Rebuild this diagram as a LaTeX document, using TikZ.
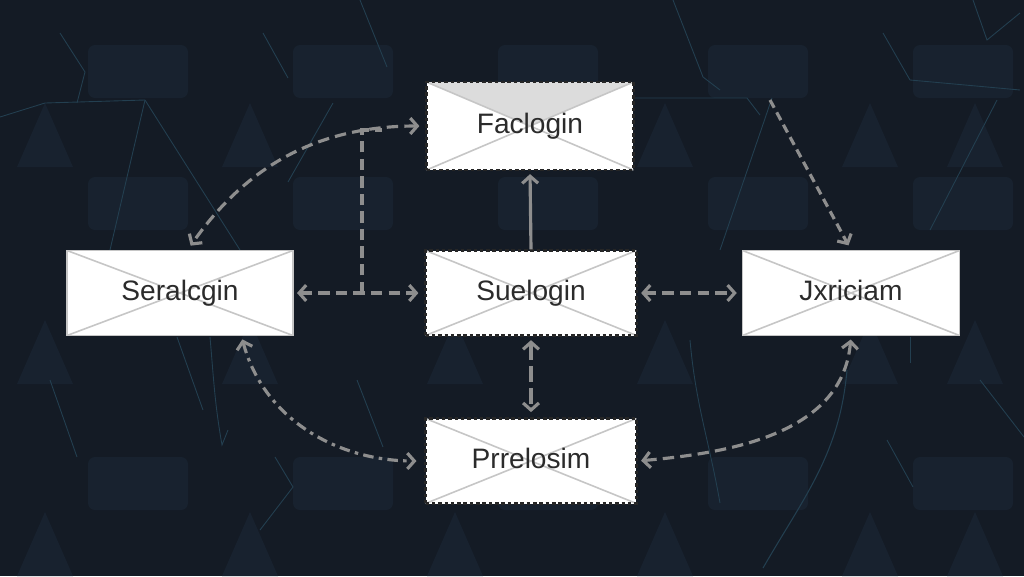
\documentclass[tikz,border=0pt]{standalone}
\usepackage{fontspec}
\setmainfont{Liberation Sans}
\usepackage{xcolor}
\usetikzlibrary{arrows.meta}

\definecolor{bgnavy}{HTML}{141B25}
\definecolor{bgshape}{HTML}{18222F}
\definecolor{bgline}{HTML}{233F50}
\definecolor{linkgray}{HTML}{8E8E8E}
\definecolor{crossgray}{HTML}{C6C6C6}
\definecolor{flapgray}{HTML}{DCDCDC}
\definecolor{labelgray}{HTML}{2B2B2B}

\tikzset{
	envcross/.style={path picture={
			\draw[solid, crossgray, line width=0.9pt] (path picture bounding box.north west) -- (path picture bounding box.south east)
			(path picture bounding box.south west) -- (path picture bounding box.north east);
	}},
	envflap/.style={path picture={
			\fill[flapgray] (path picture bounding box.north west) -- (path picture bounding box.north east) -- (path picture bounding box.center) -- cycle;
			\draw[solid, crossgray, line width=0.9pt] (path picture bounding box.north west) -- (path picture bounding box.south east)
			(path picture bounding box.south west) -- (path picture bounding box.north east);
	}},
	envelope/.style={draw=crossgray, line width=0.6pt, fill=white, minimum height=1.7cm,
		text=labelgray, font=\fontsize{16}{19}\selectfont, text height=12pt, text depth=3.5pt, envcross},
	stamp/.style={envelope, draw=black!85, line width=1.3pt, dash pattern=on 2pt off 1.6pt},
	link/.style={draw=linkgray, line width=1.8pt, dash pattern=on 6.5pt off 3.5pt}
}

\begin{document}
\begin{tikzpicture}[x=0.02cm, y=-0.02cm,
		>={Straight Barb[length=4pt,width=9pt]}]
	
	%background
	\fill[bgnavy] (0,0) rectangle (1024,576);
	\useasboundingbox (0,0) rectangle (1024,576);
	\foreach \px in {88,293,498,708,913}{
		\foreach \py in {45,177,457}{
			\fill[bgshape, rounded corners=4pt] (\px,\py) rectangle ++(100,53);
		}
	}
	\foreach \tx in {45,250,455,665,870,975}{
		\foreach \ty in {103,320,512}{
			\fill[bgshape] (\tx,\ty) -- ++(28,64) -- ++(-56,0) -- cycle;
		}
	}
	\draw[bgline, line width=0.5pt] (60,33) -- (85,72) -- (77,103);
	\draw[bgline, line width=0.5pt] (0,117) -- (45,103) -- (145,100);
	\draw[bgline, line width=0.5pt] (145,100) -- (110,250);
	\draw[bgline, line width=0.5pt] (145,100) -- (240,250);
	\draw[bgline, line width=0.5pt] (263,33) -- (288,78);
	\draw[bgline, line width=0.5pt] (333,103) -- (288,182);
	\draw[bgline, line width=0.5pt] (360,0) -- (387,67);
	\draw[bgline, line width=0.5pt] (673,0) -- (703,77) -- (720,90);
	\draw[bgline, line width=0.5pt] (620,98) -- (747,98) -- (760,115);
	\draw[bgline, line width=0.5pt] (772,98) -- (720,250);
	\draw[bgline, line width=0.5pt] (883,33) -- (910,80) -- (1020,90);
	\draw[bgline, line width=0.5pt] (973,0) -- (987,40) -- (1020,13);
	\draw[bgline, line width=0.5pt] (997,100) -- (930,230);
	\draw[bgline, line width=0.5pt] (210,337) to[out=-85,in=100] (222,445) -- (228,430);
	\draw[bgline, line width=0.5pt] (177,337) -- (203,410);
	\draw[bgline, line width=0.5pt] (50,380) -- (77,457);
	\draw[bgline, line width=0.5pt] (275,457) -- (293,487) -- (260,530);
	\draw[bgline, line width=0.5pt] (357,380) -- (383,447);
	\draw[bgline, line width=0.5pt] (690,340) to[out=-85,in=100] (720,503);
	\draw[bgline, line width=0.5pt] (913,487) -- (887,440);
	\draw[bgline, line width=0.5pt] (910,337) -- (910,363);
	\draw[bgline, line width=0.5pt] (980,380) -- (1024,437);
	\draw[bgline, line width=0.6pt] (763,568) to[out=60,in=-95] (847,370);
	
	%boxes
	\node[stamp, envflap, minimum width=4.14cm, minimum height=1.76cm] (fac) at (530,126) {Faclogin};
	\node[envelope, minimum width=4.52cm] (ser) at (180,293) {Seralcgin};
	\node[stamp, minimum width=4.22cm] (sue) at (531,293) {Suelogin};
	\node[envelope, minimum width=4.34cm] (jxr) at (851,293) {Jxriciam};
	\node[stamp, minimum width=4.22cm] (pre) at (531,461) {Prrelosim};
	
	\coordinate (tee) at (362,293);
	\coordinate (teetop) at (362,130);
	\coordinate (apex) at (770,100);
	
	%links
	\draw[link, <->, shorten <=2pt, shorten >=3.4pt] (ser.east) -- (sue.west);
	\draw[link] (tee) -- (teetop) -- ++(20,0);
	\draw[link, <->, shorten <=3.4pt, shorten >=3pt] (fac.west) to[out=180,in=55] (ser.80);
	\draw[link, ->, solid, shorten >=1.7pt] (sue.north) -- (fac.south);
	\draw[link, <->, shorten <=2pt, shorten >=3pt] (sue.east) -- (jxr.west);
	\draw[link, <->, dash pattern=on 9pt off 3.5pt, shorten <=2pt, shorten >=3pt] (sue.south) -- (pre.north);
	\draw[link, <->, dash pattern=on 6pt off 3pt on 2pt off 3pt, shorten <=2pt, shorten >=4.5pt] (ser.-35) to[out=-75,in=180] (pre.west);
	\draw[link, <->, shorten <=2pt, shorten >=2pt] (jxr.south) to[out=-95,in=5] (pre.east);
	\draw[link, ->, dash pattern=on 5pt off 3pt, shorten >=3pt] (apex) -- (jxr.north);
\end{tikzpicture}
\end{document}
